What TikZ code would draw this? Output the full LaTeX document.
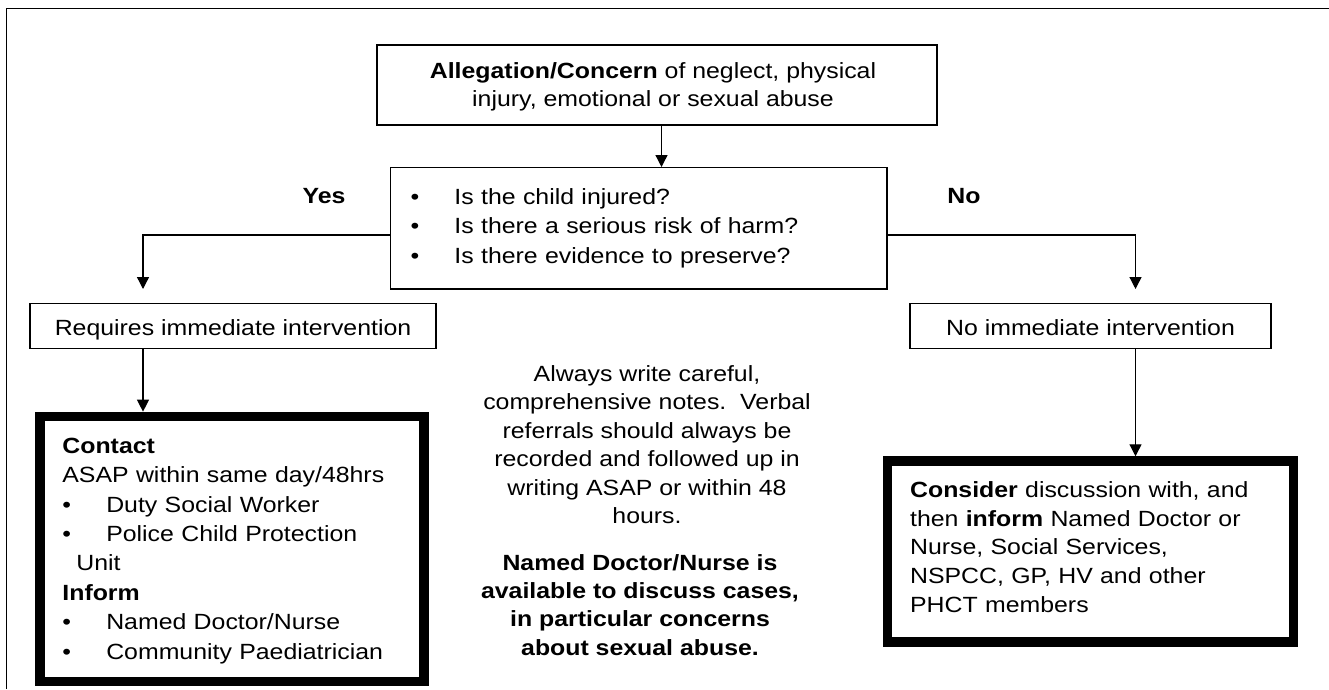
\documentclass[tikz,border=0pt]{standalone}
\usepackage{fontspec}
\setmainfont{Liberation Sans}[FakeStretch=1.13]
\usetikzlibrary{arrows.meta,calc}
\newcommand\upstrut[1]{\rule{0pt}{#1pt}}
\newcommand\downstrut[1]{\rule[-#1pt]{0pt}{#1pt}}
\newcommand\blt{\makebox[43.9pt][l]{•}}
\begin{document}
\begin{tikzpicture}[x=1pt,y=-1pt,
  every node/.style={inner sep=0pt, font=\fontsize{22}{28.4}\selectfont},
  thinbox/.style={draw, line width=1.4pt},
  thickbox/.style={draw, line width=9.5pt},
  arr/.style={line width=1.3pt, -{Triangle[width=12pt,length=12pt]}},
  lab/.style={font=\fontsize{22}{28.4}\selectfont\bfseries}]
\fill[white] (0,0) rectangle (1329,689);
\useasboundingbox (0,0) rectangle (1329,689);
% outer frame (cut off at right and bottom)
\draw[line width=1.5pt] (6.5,689) -- (6.5,8.5) -- (1329,8.5);

% top box
\node[thinbox, minimum width=560, minimum height=80, align=center] (top) at (657,85)
  {\upstrut{20}\textbf{Allegation/Concern} of neglect, physical\hspace*{8pt}\\ injury, emotional or sexual abuse\hspace*{8pt}\downstrut{5}};

% question box
\node[thinbox, minimum width=496.1, minimum height=121.3, text width=456.3, inner xsep=19.9,
  align=left, font=\fontsize{22}{29.65}\selectfont] (q) at (638.75,228.35)
  {\upstrut{20}\blt Is the child injured?\\ \blt Is there a serious risk of harm?\\ \blt Is there evidence to preserve?\downstrut{9.4}};

\node[lab, anchor=base] (yes) at (324,203.3) {Yes};
\node[lab, anchor=base] (no) at (964,203.3) {No};

% second level boxes
\node[thinbox, minimum width=406, minimum height=45, text height=19.8pt, text depth=0pt] (req) at (233,325.8) {Requires immediate intervention};
\node[thinbox, minimum width=361, minimum height=45, text height=19.8pt, text depth=0pt] (noi) at (1090.5,325.8) {No immediate intervention};

% thick boxes
\node[thickbox, minimum width=384, minimum height=265.3, text width=339.2, inner xsep=22.4,
  align=left, font=\fontsize{22}{29.4}\selectfont] (lbox) at (232,549.05)
  {\upstrut{20}\textbf{Contact}\\
   ASAP within same day/48hrs\\
   \blt Duty Social Worker\\
   \blt Police Child Protection\\
   \hspace*{13.9pt}Unit\\
   \textbf{Inform}\\
   \blt Named Doctor/Nurse\\
   \blt Community Paediatrician\downstrut{5.7}};

\node[thickbox, minimum width=405.8, minimum height=181, text width=361, inner xsep=22.4,
  align=left, font=\fontsize{22}{28.75}\selectfont] (rbox) at (1090.6,551.5)
  {\upstrut{20}\textbf{Consider} discussion with, and\\
   then \textbf{inform} Named Doctor or\\
   Nurse, Social Services,\\
   NSPCC, GP, HV and other\\
   PHCT members\downstrut{13.4}};

% middle notes
\node[anchor=north, align=center, font=\fontsize{22}{28.45}\selectfont] (note) at (647,361)
  {\upstrut{20}Always write careful,\\ comprehensive notes.\ \ Verbal\\ referrals should always be\\ recorded and followed up in\\ writing ASAP or within 48\\ hours.};
\node[anchor=north, align=center, font=\fontsize{22}{28.35}\selectfont\bfseries] (named) at (640,550)
  {\upstrut{20}Named Doctor/Nurse is\\ available to discuss cases,\\ in particular concerns\\ about sexual abuse.};

% connector helpers
\coordinate (xa) at (661.5,0);
\coordinate (yl) at (0,235);
\coordinate (lend) at (143,289);
\coordinate (rend) at (1135.5,289);

\draw[arr] (top.south -| xa) -- (q.north -| xa);
\draw[arr] (q.west |- yl) -| (lend);
\draw[arr] (q.east |- yl) -| (rend);
\draw[arr] (req.south -| lend) -- (lbox.north -| lend);
\draw[arr] (noi.south -| rend) -- (rbox.north -| rend);
\end{tikzpicture}
\end{document}
